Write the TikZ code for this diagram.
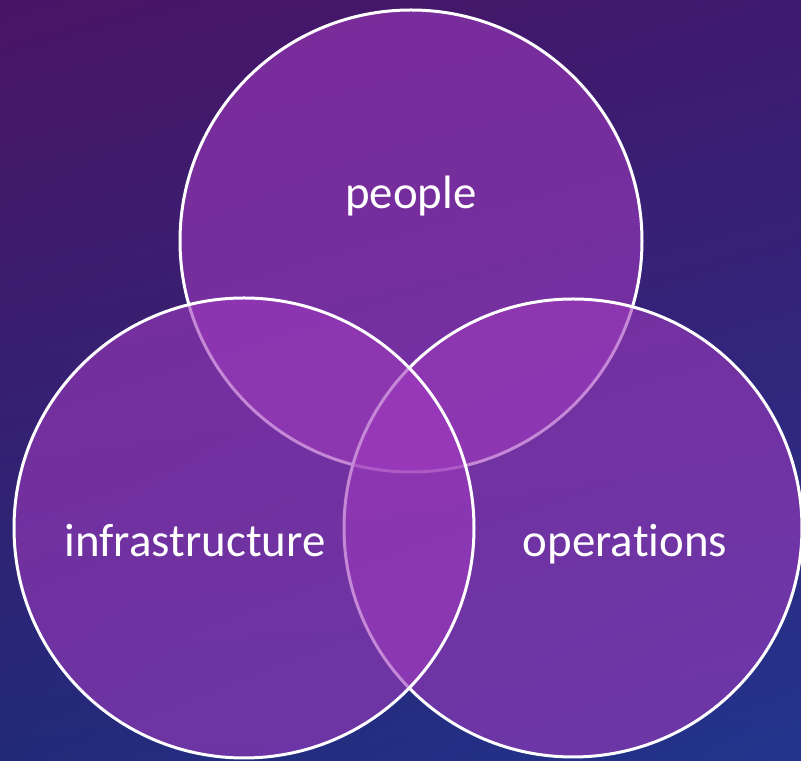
\documentclass[tikz,border=0pt]{standalone}
\usepackage{fontspec}
\setmainfont{Carlito}[Ligatures=NoCommon]
\usepackage{tikz}
\usetikzlibrary{shadings}
\usepackage{xcolor}

\definecolor{bgtl}{RGB}{74,20,102}
\definecolor{bgtr}{RGB}{62,26,110}
\definecolor{bgbl}{RGB}{35,42,122}
\definecolor{bgbr}{RGB}{34,52,140}
\definecolor{venn}{RGB}{158,58,188}

\tikzset{
  vennring/.style={fill=venn, fill opacity=0.6, draw=white, line width=0.9mm},
  venntext/.style={anchor=base, text=white, font=\fontsize{40}{48}\selectfont}
}

\begin{document}
\begin{tikzpicture}[x=0.03cm, y=0.03cm]
\shade[upper left=bgtl, upper right=bgtr, lower left=bgbl, lower right=bgbr] (0,0) rectangle (801,761);
\useasboundingbox (0,0) rectangle (801,761);

% circles: top first, then right, then left
\draw[vennring] (411,520) circle [radius=231];
\draw[vennring] (573,233) circle [radius=229];
\draw[vennring] (244,233) circle [radius=230];

\node[venntext] (people) at (411,552) {people};
\node[venntext] (infra) at (195,204) {infrastructure};
\node[venntext] (ops) at (625,204) {operations};

\end{tikzpicture}
\end{document}
